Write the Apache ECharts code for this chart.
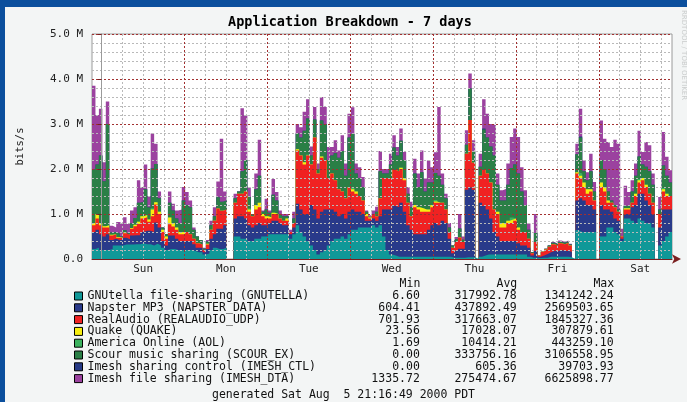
<!DOCTYPE html>
<html lang="en">
<head>
<meta charset="UTF-8">
<title>Application Breakdown - 7 days</title>
<style>
    html, body { margin: 0; padding: 0; background: #f3f5f5; }
    #chart { width: 687px; height: 402px; }
</style>
</head>
<body>
<div id="chart"></div>
<script src="https://cdn.jsdelivr.net/npm/echarts@6/dist/echarts.min.js"></script>
<script>
// hourly averages in Mbit/s, first bin starts Sat ~21:10 (2.8 h before Sun 00:00)
var startHour = -2.8;
var days = ['Sun', 'Mon', 'Tue', 'Wed', 'Thu', 'Fri', 'Sat'];

var gnutella = [
    .22,.25,.2,.2,.2,.22,.3,.3,.3,.32,
    .32,.32,.33,.33,.35,.33,.33,.3,.34,.3,
    .25,.2,.22,.22,.2,.2,.2,.2,.2,.18,
    .15,.15,.1,.12,.2,.25,.22,.22,.25,0,
    0,.5,.5,.45,.45,.4,.4,.45,.45,.5,
    .5,.55,.55,.55,.55,.55,.55,.45,.55,.75,
    .6,.5,.4,.3,.2,.1,.15,.2,.3,.4,
    .45,.45,.5,.45,.55,.65,.65,.7,.7,.7,
    .7,.75,.7,.75,.5,.2,.1,.08,.05,.05,
    .05,.05,.05,.05,.05,.05,.05,.05,.05,.05,
    .05,.05,.05,.05,.03,.03,.03,.03,.04,.04,
    .04,0,.05,.08,.1,.1,.1,.1,.1,.1,
    .1,.1,.1,.1,.1,.1,.05,.03,.03,.02,
    .03,.03,.05,.05,.05,.05,.05,.05,.04,0,
    .64,.6,.6,.6,.6,.6,0,.5,.5,.7,
    .7,.6,.55,.4,.9,.9,.85,.8,.9,.85,
    .8,.8,.7,0,.3,.4,.5,.6
];
var napster = [
    .38,.4,.35,.3,.35,.2,.15,.12,.12,.15,
    .12,.2,.2,.2,.25,.3,.3,.3,.47,.4,
    .15,.1,.3,.3,.25,.2,.2,.2,.2,.15,
    .1,.1,.05,.1,.25,.3,.45,.45,.5,0,
    0,.4,.45,.5,.45,.35,.3,.3,.35,.25,
    .25,.25,.3,.3,.25,.2,.2,.1,.15,.48,
    .5,.5,.6,.9,.9,.8,.9,.9,.8,.7,
    .6,.5,.5,.45,.5,.45,.4,.35,.3,.15,
    .15,.15,.15,.2,.6,.9,1.0,1.1,1.1,1.2,
    1.0,.7,.6,.5,.5,.5,.5,.6,.7,.75,
    .7,.8,.75,.4,.1,.15,.2,.2,1.5,1.55,
    1.5,0,1.2,1.1,1.0,.8,.5,.4,.3,.3,
    .3,.3,.3,.25,.2,.2,.2,.05,.15,.03,
    .05,.08,.1,.13,.12,.15,.13,.13,.12,0,
    .66,.75,.7,.6,.6,.5,0,.7,.6,.4,
    .35,.3,.3,.05,.1,.1,.3,.4,.55,.6,
    .5,.4,.3,0,.4,.7,.6,.5
];
var realaudio = [
    .15,.25,.2,.2,.15,.1,.1,.05,.05,.1,
    .1,.15,.2,.25,.3,.3,.2,.35,.4,.3,
    .2,.15,.25,.2,.2,.15,.15,.2,.15,.12,
    .1,.07,.05,.1,.2,.3,.45,.4,.35,0,
    0,.35,.5,.5,.6,.3,.25,.35,.35,.2,
    .15,.1,.15,.15,.1,.1,.1,.05,.1,1.18,
    1.2,1.1,1.3,.9,1.6,1.0,1.2,1.1,.7,.8,
    .7,.6,.5,.45,.55,.4,.4,.35,.3,.1,
    .05,.1,.1,.4,.7,.7,.7,.8,.8,.75,
    .7,.5,.3,.6,.55,.5,.5,.4,.4,.45,
    .5,.4,.3,.15,.12,.2,.25,.15,.8,1.5,
    .6,0,.6,.8,.8,.8,.5,.5,.3,.3,
    .4,.4,.45,.3,.3,.3,.2,.05,.2,.03,
    .08,.1,.12,.15,.13,.15,.15,.18,.14,0,
    .6,.45,.3,.25,.3,.2,0,.4,.4,.15,
    .2,.25,.2,.05,.1,.1,.1,.2,.25,.3,
    .3,.25,.25,0,.3,.4,.3,.3
];
var quake = [
    .05,.1,.05,.03,.05,.02,0,.02,0,.02,
    0,.02,.03,.05,.05,.05,.05,.15,.05,.05,
    .05,.05,.15,.08,.05,.05,.05,0,0,0,
    0,0,0,.02,0,0,0,0,0,0,
    0,0,0,0,0,.05,0,.1,.1,.05,
    .05,.03,.03,0,0,0,.05,0,0,.03,
    0,.05,0,0,0,0,.03,0,0,0,
    0,0,0,0,0,.05,.05,0,0,.05,
    .02,0,0,0,0,0,0,0,0,.03,
    .05,0,0,.05,.05,.08,.05,.05,.05,.03,
    0,0,0,0,0,0,0,0,0,0,
    0,0,0,0,0,0,0,.05,.1,.1,
    .05,.08,.05,.05,0,0,0,0,0,0,
    0,0,0,0,0,0,0,0,0,0,
    .03,.05,.1,.1,.05,0,0,.1,.1,.05,
    0,0,0,0,.03,.03,0,.05,.05,.05,
    .05,0,0,0,0,.05,.05,0
];
var aol = [
    0,0,0,0,0,0,0,0,0,0,
    0,0,0,0,0,0,0,.03,0,0,
    0,0,0,0,0,0,0,0,0,0,
    0,0,0,0,0,0,0,0,0,0,
    0,0,0,0,0,.03,0,0,0,0,
    0,0,0,0,0,0,0,0,0,0,
    0,0,.02,0,0,0,0,0,0,0,
    0,0,0,0,0,.03,0,0,0,0,
    0,0,0,0,0,0,0,0,0,0,
    0,0,0,0,0,0,0,0,0,.03,
    0,0,0,0,0,0,0,0,0,0,
    0,0,0,0,0,0,0,0,0,0,
    0,.04,0,0,0,0,0,0,0,0,
    0,0,0,0,0,0,0,0,0,0,
    0,.05,0,0,0,0,0,0,0,0,
    0,0,0,0,0,0,0,0,.03,0,
    0,0,0,0,0,.03,0,0
];
var scour = [
    1.2,1.1,1.5,1.0,2.25,.05,.05,.08,.03,.05,
    .03,.1,.15,.42,.32,.57,.27,.88,.85,.3,
    .05,.05,.33,.28,.2,.2,.7,.6,.6,.2,
    .15,.1,.03,.05,.1,.1,.25,.2,.2,0,
    0,.1,.05,.5,.7,.25,.05,.35,.6,.05,
    .15,.1,.4,.3,.1,.1,.05,0,.1,.35,
    .4,.7,.8,.2,.4,.1,.8,.8,.4,.4,
    .6,.7,.9,.5,1.1,1.2,.4,.4,.3,.05,
    0,0,.1,.6,.1,.1,.3,.5,.35,.6,
    .4,.2,.2,.7,.45,.8,.4,.6,.5,.6,
    .6,.4,.25,.1,.05,.06,.2,.05,.2,.7,
    .25,0,.2,.9,.8,.8,1.2,.6,.5,.5,
    .8,1.1,1.2,1.2,.9,.6,.2,.02,.2,0,
    0,.02,.03,.03,.02,.03,.03,.03,.02,0,
    .4,.8,.25,.2,.4,.2,0,.5,.4,.2,
    .05,.05,.05,0,.05,.05,.25,.4,.5,.3,
    .4,.5,.4,0,.1,.5,.4,.3
];
var imeshCtl = [
    0,0,0,0,0,0,0,0,0,0,
    0,0,0,0,0,0,0,0,0,0,
    0,0,0,0,0,0,0,0,0,0,
    0,0,0,0,0,0,0,0,0,0,
    0,0,0,0,0,0,0,0,0,0,
    0,0,0,0,0,0,0,0,0,0,
    0,0,0,0,0,0,0,0,0,0,
    0,0,0,0,0,0,0,0,0,0,
    0,0,0,0,0,0,0,0,0,0,
    0,0,0,0,0,0,0,0,0,0,
    0,0,0,0,0,0,0,0,0,0,
    0,0,0,.02,0,0,0,0,0,0,
    0,0,0,0,0,0,0,0,0,0,
    0,0,0,0,0,0,0,0,0,0,
    0,.02,0,0,0,0,0,0,0,0,
    0,0,0,0,0,0,0,0,0,0,
    0,0,0,0,0,0,0,0
];
var imeshDta = [
    1.85,1.1,1.04,.42,.5,.15,.1,.25,.28,.29,
    .21,.29,.24,.5,.33,.55,.25,.78,.45,.15,
    0,0,.25,.15,.18,.3,.3,.29,.15,.05,
    0,0,.02,.03,.1,.2,.35,1.4,.2,0,
    0,.1,0,1.4,1.0,.21,0,.35,.8,.03,
    .24,.05,.35,.19,.08,.05,.05,.05,.15,.21,
    .23,.42,.43,.2,.28,.12,.52,.38,.29,.19,
    .29,.16,.35,.27,.53,.59,.22,.24,.22,.03,
    .05,.08,.11,.45,.1,.1,.24,.27,.19,.27,
    .18,.15,.12,.33,.3,.48,.29,.49,.34,.46,
    1.53,.25,.1,.1,0,.05,.32,.07,.32,.33,
    .25,0,.29,.65,.53,.5,.67,.25,.23,.26,
    .47,.69,.8,.81,.54,.33,.14,0,.42,0,
    0,0,0,.02,.02,.03,.02,.02,.02,0,
    .23,.62,.24,.18,.39,.21,0,.88,.67,1.1,
    1.19,1.45,1.46,.17,.45,.31,.25,.27,.57,.28,
    .55,.58,.25,0,.28,.74,.42,.27
];

// legend table, bottom of stack first
var names = [
    'GNUtella file-sharing (GNUTELLA)',
    'Napster MP3 (NAPSTER_DATA)',
    'RealAudio (REALAUDIO_UDP)',
    'Quake (QUAKE)',
    'America Online (AOL)',
    'Scour music sharing (SCOUR_EX)',
    'Imesh sharing control (IMESH_CTL)',
    'Imesh file sharing (IMESH_DTA)'
];
var mins = ['6.60', '604.41', '701.93', '23.56', '1.69', '0.00', '0.00', '1335.72'];
var avgs = ['317992.78', '437892.49', '317663.07', '17028.07', '10414.21', '333756.16', '605.36', '275474.67'];
var maxs = ['1341242.24', '2569503.65', '1845327.36', '307879.61', '443259.10', '3106558.95', '39703.93', '6625898.77'];
var colors = ['#109898', '#293a8a', '#f02222', '#f7ee10', '#3bb25e', '#2a7f46', '#253985', '#9b429f'];
var layers = [gnutella, napster, realaudio, quake, aol, scour, imeshCtl, imeshDta];

var mono = 'DejaVu Sans Mono';
var chart = echarts.init(document.getElementById('chart'));

// stack by hand, draw the tallest layer first
var cum = gnutella.map(function () { return 0; });
var series = layers.map(function (vals, k) {
    cum = cum.map(function (c, i) { return c + vals[i]; });
    var pts = cum.map(function (v, i) { return [startHour + i, +v.toFixed(3)]; });
    pts.push([startHour + vals.length, pts[pts.length - 1][1]]);
    return {
        name: names[k],
        type: 'line',
        xAxisIndex: 1,
        step: 'end',
        symbol: 'none',
        silent: true,
        lineStyle: { width: 0 },
        itemStyle: { color: colors[k] },
        areaStyle: { color: colors[k], opacity: 1 },
        data: pts
    };
}).reverse();

function legendText(name) {
    var k = names.indexOf(name);
    return name + mins[k].padStart(48 - name.length) + avgs[k].padStart(14) + maxs[k].padStart(14);
}

var gridMinor = { color: '#b9b9b9', type: [2, 2], width: 1 };
var gridMajor = { color: '#a23030', type: [2, 2], width: 1 };

var option = {
    animation: false,
    backgroundColor: '#f3f5f5',
    title: {
        text: 'Application Breakdown - 7 days',
        left: 223,
        top: 10,
        textStyle: { fontFamily: mono, fontWeight: 'bold', fontSize: 13.5, color: '#000' }
    },
    grid: {
        left: 92, right: 15, top: 34, bottom: 143,
        show: true, backgroundColor: '#fff', borderColor: '#9a9a9a', borderWidth: 1
    },
    legend: {
        orient: 'vertical',
        left: 74,
        top: 290,
        padding: 0,
        itemWidth: 8,
        itemHeight: 8,
        itemGap: -0.2,
        icon: 'rect',
        selectedMode: false,
        itemStyle: { borderColor: '#000', borderWidth: 1 },
        textStyle: { fontFamily: mono, fontSize: 11.5, lineHeight: 11, color: '#111' },
        formatter: legendText,
        data: names
    },
    xAxis: [{
        // 6 hour grid
        type: 'value', position: 'bottom',
        min: startHour, max: startHour + 168, minInterval: 6, maxInterval: 6, splitNumber: 28,
        axisLine: { show: false }, axisTick: { show: false }, axisLabel: { show: false },
        splitLine: { show: true, showMinLine: false, showMaxLine: false, lineStyle: gridMinor },
        z: 5
    }, {
        // midnight grid, carries the data
        type: 'value', position: 'bottom',
        min: startHour, max: startHour + 168, minInterval: 24, maxInterval: 24, splitNumber: 7,
        axisLine: {
            show: true, onZero: false,
            lineStyle: { color: '#7a1f1f', width: 1 },
            symbol: ['none', 'arrow'], symbolSize: [7, 9], symbolOffset: [0, 9]
        },
        axisTick: { show: false },
        axisLabel: { show: false },
        splitLine: { show: true, showMinLine: false, showMaxLine: false, lineStyle: gridMajor },
        z: 6
    }, {
        // day names at noon
        type: 'value', position: 'bottom',
        min: startHour - 12, max: startHour + 156, minInterval: 24, maxInterval: 24, splitNumber: 7,
        axisLine: { show: false }, axisTick: { show: false }, splitLine: { show: false },
        axisLabel: {
            margin: 5, fontFamily: mono, fontSize: 11, color: '#222',
            showMinLabel: false, showMaxLabel: false,
            formatter: function (v) {
                return Math.abs(v % 24) < 1e-6 ? (days[Math.round(v / 24)] || '') : '';
            }
        },
        z: 6
    }],
    yAxis: {
        type: 'value', min: 0, max: 5, interval: 1,
        name: 'bits/s', nameLocation: 'middle', nameRotate: 90, nameGap: 66,
        nameTextStyle: { fontFamily: mono, fontSize: 10.5, color: '#222' },
        axisLine: { show: true, lineStyle: { color: '#9a9a9a' } },
        axisTick: { show: true, length: 4, lineStyle: { color: '#7a1f1f' } },
        axisLabel: {
            margin: 9, fontFamily: mono, fontSize: 11, color: '#222',
            formatter: function (v) { return v === 0 ? '0.0' : v.toFixed(1) + ' M'; }
        },
        splitLine: { show: true, lineStyle: gridMajor },
        minorTick: { show: false, splitNumber: 5 },
        minorSplitLine: { show: true, lineStyle: gridMinor },
        z: 6
    },
    graphic: [
        { type: 'rect', left: 0, top: 0, shape: { width: 687, height: 7 }, style: { fill: '#0b4f9d' }, silent: true },
        { type: 'rect', left: 0, top: 0, shape: { width: 5, height: 402 }, style: { fill: '#0b4f9d' }, silent: true },
        {
            type: 'text', left: 88, top: 278, silent: true,
            style: {
                text: 'Min'.padStart(48) + 'Avg'.padStart(14) + 'Max'.padStart(14),
                font: '11.5px "DejaVu Sans Mono"', fill: '#111'
            }
        },
        {
            type: 'text', left: 'center', top: 389, silent: true,
            style: {
                text: 'generated Sat Aug  5 21:16:49 2000 PDT',
                font: '11.5px "DejaVu Sans Mono"', fill: '#111'
            }
        },
        {
            type: 'text', x: 687, y: 10, rotation: -Math.PI / 2, silent: true,
            style: { text: 'RRDTOOL / TOBI OETIKER', font: '7px "DejaVu Sans"', fill: '#c9cccc' }
        }
    ],
    series: series
};
chart.setOption(option);
</script>
</body>
</html>
